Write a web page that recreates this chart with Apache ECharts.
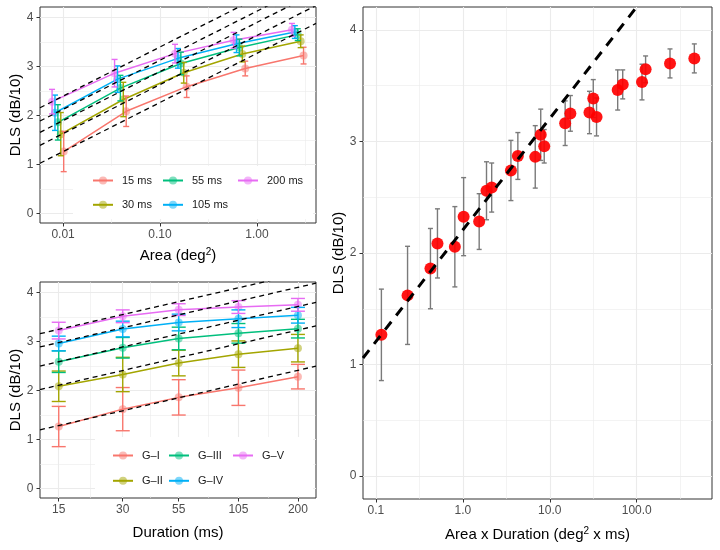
<!DOCTYPE html>
<html><head><meta charset="utf-8">
<script src="https://cdn.jsdelivr.net/npm/echarts@6.0.0/dist/echarts.min.js"></script>
<style>html,body{margin:0;padding:0;background:#fff}#c{width:720px;height:550px}</style>
</head><body><div id="c"></div>
<script>
// ---------------- data ----------------
const durations = [15, 30, 55, 105, 200];
const durationNames = ['15 ms', '30 ms', '55 ms', '105 ms', '200 ms'];
const groupNames = ['G–I', 'G–II', 'G–III', 'G–IV', 'G–V'];
const areas = [0.0077, 0.034, 0.143, 0.575, 2.3];           // deg^2, one per group
// DLS (dB/10) per group, across durations 15..200 ms
const dlsGI   = [1.266, 1.620, 1.860, 2.056, 2.282];
const dlsGII  = [2.086, 2.326, 2.558, 2.740, 2.862];
const dlsGIII = [2.587, 2.870, 3.060, 3.164, 3.260];
const dlsGIV  = [2.957, 3.252, 3.385, 3.462, 3.533];
const dlsGV   = [3.220, 3.512, 3.647, 3.700, 3.745];
// error bar half-lengths
const sdGI   = [0.41, 0.44, 0.36, 0.36, 0.25];
const sdGII  = [0.31, 0.35, 0.26, 0.27, 0.28];
const sdGIII = [0.22, 0.21, 0.23, 0.20, 0.19];
const sdGIV  = [0.15, 0.16, 0.17, 0.18, 0.16];
const sdGV   = [0.17, 0.13, 0.12, 0.13, 0.13];
// tick labels
const areaTicks = [0.01, 0.1, 1];
const areaTickLabels = ['0.01', '0.10', '1.00'];
const durationTickLabels = ['15', '30', '55', '105', '200'];
const productTicks = [0.1, 1, 10, 100];
const productTickLabels = ['0.1', '1.0', '10.0', '100.0'];
const dlsTicks = [0, 1, 2, 3, 4];
const dlsTickLabels = ['0', '1', '2', '3', '4'];
// dashed reference lines (slope 1 per decade): y = log10(x) + intercept
const areaLineIntercepts = [3.265, 3.63, 3.895, 4.125, 4.395];     // one per duration
const durationLineIntercepts = [0.11, 0.93, 1.41, 1.80, 2.07];      // one per group
const productLineIntercept = 2.207;

// ---------------- style / layout ----------------
const dls = [dlsGI, dlsGII, dlsGIII, dlsGIV, dlsGV];
const sd = [sdGI, sdGII, sdGIII, sdGIV, sdGV];
const COLORS = ['#F8766D', '#A3A500', '#00BF7D', '#00B0F6', '#E76BF3'];
const FONT = 'Liberation Sans, Arial, Helvetica, sans-serif';
const TICK_TXT = '#4D4D4D';
const DODGE = 0.03;                      // horizontal dodge (decades) in the area panel
const L = Math.log10;
const RANGE_TOP_X = [-2.238, 0.61];
const RANGE_BOT_X = [1.088, 2.386];
const RANGE_RIGHT_X = [-1.149, 2.866];
const RANGE_LEFT_Y = [-0.19, 4.21];
const RANGE_RIGHT_Y = [-0.206, 4.206];

function minorOf(majors, lo, hi) {
  const d = majors[1] - majors[0];
  const ext = [majors[0] - d].concat(majors, [majors[majors.length - 1] + d]);
  const out = [];
  for (let k = 0; k < ext.length - 1; k++) {
    const m = (ext[k] + ext[k + 1]) / 2;
    if (m > lo && m < hi) out.push(m);
  }
  return out;
}
const richTitle = {
  n: { fontSize: 15, fontFamily: FONT, color: '#000', lineHeight: 20, verticalAlign: 'bottom' },
  s: { fontSize: 10, fontFamily: FONT, color: '#000', lineHeight: 11, verticalAlign: 'top', padding: [4, 0, 0, 0] }
};
function makeAxes(grid, isX, range, majors, labels, title, nameGap) {
  const minors = minorOf(majors, range[0], range[1]);
  const minorAxis = {
    type: 'value', gridIndex: grid, min: range[0], max: range[1],
    position: isX ? 'top' : 'right',
    axisLine: { show: false, onZero: false },
    axisTick: { show: false, customValues: minors },
    axisLabel: { show: false, customValues: minors },
    splitLine: { show: true, lineStyle: { color: '#EBEBEB', width: 0.6 } }
  };
  const majorAxis = {
    type: 'value', gridIndex: grid, min: range[0], max: range[1],
    position: isX ? 'bottom' : 'left',
    axisLine: { show: false, onZero: false },
    axisTick: { show: true, customValues: majors, length: 3.5, lineStyle: { color: '#333', width: 1 } },
    axisLabel: {
      show: true, customValues: majors, margin: isX ? 6 : 6.5, fontSize: 12, color: TICK_TXT, fontFamily: FONT,
      formatter: v => { const k = majors.findIndex(m => Math.abs(m - v) < 1e-6); return k >= 0 ? labels[k] : ''; }
    },
    splitLine: { show: true, lineStyle: { color: '#EBEBEB', width: 1.1 } },
    name: title, nameLocation: 'middle', nameGap: nameGap,
    nameTextStyle: { fontSize: 15, fontFamily: FONT, color: '#000', rich: richTitle }
  };
  return [minorAxis, majorAxis];
}
function errorSeries(xi, yi, data, color, capHalf, width, z) {
  return {
    type: 'custom', xAxisIndex: xi, yAxisIndex: yi, z: z, silent: true,
    encode: { x: 0, y: [1, 2] }, data: data,
    renderItem: (params, api) => {
      const x = api.value(0);
      const lo = api.coord([x, api.value(1)]);
      const hi = api.coord([x, api.value(2)]);
      const st = { stroke: color, lineWidth: width };
      return { type: 'group', children: [
        { type: 'line', shape: { x1: lo[0], y1: lo[1], x2: hi[0], y2: hi[1] }, style: st },
        { type: 'line', shape: { x1: lo[0] - capHalf, y1: lo[1], x2: lo[0] + capHalf, y2: lo[1] }, style: st },
        { type: 'line', shape: { x1: hi[0] - capHalf, y1: hi[1], x2: hi[0] + capHalf, y2: hi[1] }, style: st }
      ] };
    }
  };
}
function dashedLine(xi, yi, xr, b, width, dash, z) {
  return {
    type: 'line', xAxisIndex: xi, yAxisIndex: yi, z: z, silent: true, clip: true,
    symbol: 'none', data: [[xr[0], xr[0] + b], [xr[1], xr[1] + b]],
    lineStyle: { color: '#000', width: width, type: dash }
  };
}

const xAxes = []
  .concat(makeAxes(0, true, RANGE_TOP_X, areaTicks.map(L), areaTickLabels, '{n|Area (deg}{s|2}{n|)}', 20))
  .concat(makeAxes(1, true, RANGE_BOT_X, durations.map(L), durationTickLabels, '{n|Duration (ms)}', 22.5))
  .concat(makeAxes(2, true, RANGE_RIGHT_X, productTicks.map(L), productTickLabels, '{n|Area x Duration (deg}{s|2}{n| x ms)}', 20.5));
const yAxes = []
  .concat(makeAxes(0, false, RANGE_LEFT_Y, dlsTicks, dlsTickLabels, '{n|DLS (dB/10)}', 15))
  .concat(makeAxes(1, false, RANGE_LEFT_Y, dlsTicks, dlsTickLabels, '{n|DLS (dB/10)}', 15))
  .concat(makeAxes(2, false, RANGE_RIGHT_Y, dlsTicks, dlsTickLabels, '{n|DLS (dB/10)}', 15.5));

const series = [];
// ---- top-left: DLS vs area, one line per duration ----
durations.forEach((d, j) => {
  const c = COLORS[j];
  const off = (durations.length - 1 - j) * DODGE;
  series.push({
    type: 'line', name: durationNames[j], xAxisIndex: 0, yAxisIndex: 0, z: 2, silent: true,
    data: areas.map((a, i) => [L(a) + off, dls[i][j]]),
    symbol: 'circle', symbolSize: 8, showSymbol: true,
    lineStyle: { color: c, width: 1.5 }, itemStyle: { color: c, opacity: 0.5 }
  });
  series.push(errorSeries(0, 0, areas.map((a, i) => [L(a) + off, dls[i][j] - sd[i][j], dls[i][j] + sd[i][j]]), c, 3, 1.4, 3));
  series.push(dashedLine(0, 0, RANGE_TOP_X, areaLineIntercepts[j], 1.3, [5, 4], 4));
});
// ---- bottom-left: DLS vs duration, one line per area group ----
areas.forEach((a, i) => {
  const c = COLORS[i];
  series.push({
    type: 'line', name: groupNames[i], xAxisIndex: 2, yAxisIndex: 2, z: 2, silent: true,
    data: durations.map((d, j) => [L(d), dls[i][j]]),
    symbol: 'circle', symbolSize: 8, showSymbol: true,
    lineStyle: { color: c, width: 1.5 }, itemStyle: { color: c, opacity: 0.5 }
  });
  series.push(errorSeries(2, 2, durations.map((d, j) => [L(d), dls[i][j] - sd[i][j], dls[i][j] + sd[i][j]]), c, 7, 1.4, 3));
  series.push(dashedLine(2, 2, RANGE_BOT_X, durationLineIntercepts[i], 1.3, [5, 4], 4));
});
// ---- right: DLS vs area x duration ----
const prodPts = [], prodErr = [];
areas.forEach((a, i) => durations.forEach((d, j) => {
  prodPts.push([L(a * d), dls[i][j]]);
  prodErr.push([L(a * d), dls[i][j] - sd[i][j], dls[i][j] + sd[i][j]]);
}));
series.push(errorSeries(4, 4, prodErr, '#7A7A7A', 2.5, 1.4, 2));
series.push({
  type: 'scatter', xAxisIndex: 4, yAxisIndex: 4, z: 3, silent: true, data: prodPts,
  symbol: 'circle', symbolSize: 12, itemStyle: { color: '#FF0000', opacity: 0.92 }
});
series.push(dashedLine(4, 4, RANGE_RIGHT_X, productLineIntercept, 3, [10, 8], 4));

function legendCol(names, left, top, gap) {
  return {
    data: names, left: left, top: top, orient: 'vertical', padding: 0, itemGap: gap,
    itemWidth: 20, itemHeight: 10, selectedMode: false,
    textStyle: { fontSize: 11, color: '#1a1a1a', fontFamily: FONT, padding: [0, 0, 0, 4] }
  };
}

const option = {
  animation: false,
  textStyle: { fontFamily: FONT },
  grid: [
    { left: 40, top: 7, width: 276, height: 216, show: true, borderColor: '#333', borderWidth: 1 },
    { left: 40, top: 282, width: 276, height: 216, show: true, borderColor: '#333', borderWidth: 1 },
    { left: 363, top: 7, width: 349, height: 492, show: true, borderColor: '#333', borderWidth: 1 }
  ],
  xAxis: xAxes,
  yAxis: yAxes,
  legend: [
    legendCol([durationNames[0], durationNames[1]], 92, 175, 13.3),
    legendCol([durationNames[2], durationNames[3]], 162, 175, 13.3),
    legendCol([durationNames[4]], 237, 175, 13.3),
    legendCol([groupNames[0], groupNames[1]], 112, 450, 14.3),
    legendCol([groupNames[2], groupNames[3]], 168, 450, 14.3),
    legendCol([groupNames[4]], 232, 450, 14.3)
  ],
  graphic: [
    { type: 'rect', z: 1, silent: true, shape: { x: 73, y: 166, width: 240, height: 53 }, style: { fill: '#fff' } },
    { type: 'rect', z: 1, silent: true, shape: { x: 95, y: 437, width: 218, height: 59 }, style: { fill: '#fff' } }
  ],
  series: series
};
const chart = echarts.init(document.getElementById('c'), null, { renderer: 'canvas' });
chart.setOption(option);
</script>
</body></html>
